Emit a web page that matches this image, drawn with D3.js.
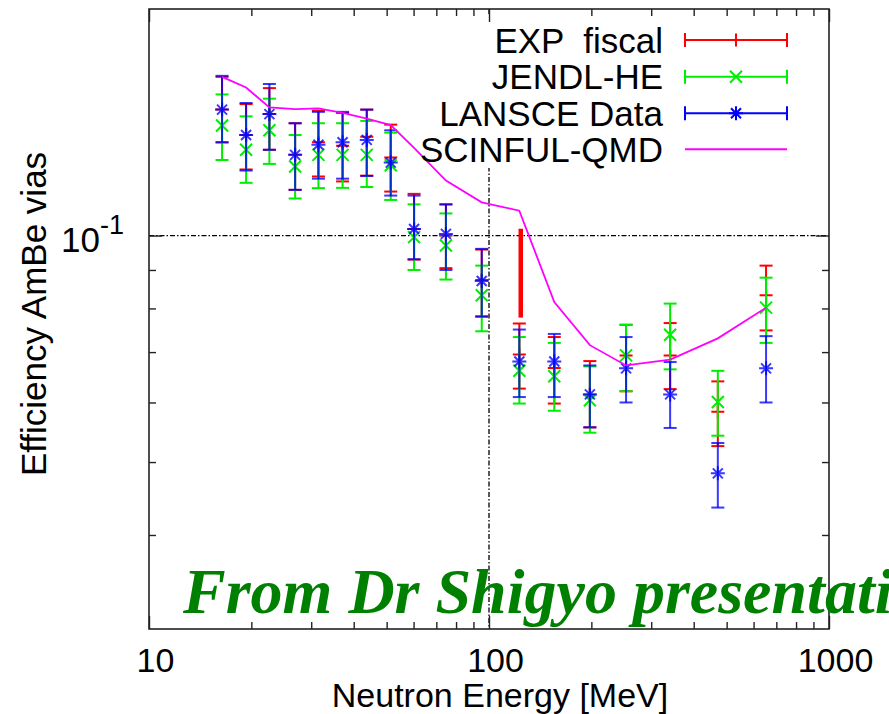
<!DOCTYPE html>
<html>
<head>
<meta charset="utf-8">
<script src="https://cdn.jsdelivr.net/npm/d3@7"></script>
<style>
  html, body { margin: 0; padding: 0; background: #fff; }
  svg { display: block; }
  .sans { font-family: "Liberation Sans", Arial, Helvetica, sans-serif; fill: #000; }
  .credit { font-family: "Liberation Serif", "Times New Roman", serif; font-style: italic; font-weight: bold; fill: #008000; }
</style>
</head>
<body>
<svg id="chart" width="889" height="714"></svg>
<script>
// Neutron energies [MeV] of the measured points
const energy = [16.4, 19.3, 22.6, 26.9, 31.5, 37.1, 43.7, 51.4, 60.2, 74.7, 95.2, 122.8, 155.6, 198, 253, 341, 471, 653];

// EXP fiscal
const expVal = [0.147, 0.136, 0.145, 0.128, 0.133, 0.1316, 0.1353, 0.127, 0.102, 0.100, 0.0873, 0.0695, 0.0667, 0.0615, 0.0693, 0.0693, 0.0583, 0.0833];
const expLo  = [0.133, 0.1224, 0.130, 0.115, 0.1198, 0.118, 0.1201, 0.1144, 0.0929, 0.0905, 0.0781, 0.0626, 0.0598, 0.0556, 0.0621, 0.0625, 0.0525, 0.0748];
const expHi  = [0.1625, 0.1495, 0.157, 0.141, 0.1465, 0.1455, 0.147, 0.1404, 0.1136, 0.110, 0.0958, 0.0764, 0.0733, 0.0681, 0.0761, 0.0765, 0.0640, 0.0912];

// JENDL-HE
const jendlVal = [0.140, 0.130, 0.138, 0.1235, 0.128, 0.128, 0.128, 0.124, 0.0995, 0.097, 0.0833, 0.0661, 0.065, 0.0604, 0.0693, 0.0738, 0.0601, 0.0802];
const jendlLo  = [0.126, 0.1175, 0.1245, 0.112, 0.1156, 0.1157, 0.116, 0.1115, 0.090, 0.0874, 0.0746, 0.0598, 0.0585, 0.0547, 0.0621, 0.0664, 0.0542, 0.0720];
const jendlHi  = [0.154, 0.144, 0.152, 0.136, 0.141, 0.141, 0.142, 0.137, 0.110, 0.107, 0.0912, 0.0733, 0.072, 0.067, 0.0761, 0.0812, 0.0661, 0.0879];

// LANSCE Data
const lansceVal = [0.147, 0.136, 0.145, 0.128, 0.132, 0.133, 0.134, 0.125, 0.102, 0.1005, 0.087, 0.068, 0.068, 0.0615, 0.0666, 0.0615, 0.0483, 0.0666];
const lansceLo  = [0.133, 0.122, 0.130, 0.115, 0.119, 0.119, 0.120, 0.113, 0.093, 0.090, 0.078, 0.061, 0.061, 0.0556, 0.060, 0.0555, 0.0435, 0.0600];
const lansceHi  = [0.163, 0.150, 0.159, 0.141, 0.146, 0.146, 0.147, 0.138, 0.113, 0.110, 0.096, 0.075, 0.074, 0.0672, 0.0733, 0.0679, 0.0530, 0.0735];

// SCINFUL-QMD calculation
const scinfulVal = [0.1625, 0.1573, 0.1480, 0.1472, 0.1476, 0.1455, 0.1430, 0.1402, 0.1308, 0.1183, 0.1107, 0.1079, 0.0816, 0.0715, 0.0672, 0.0684, 0.0730, 0.0802];

// Highlight bar near 124 MeV
const markEnergy = [124];
const markRange = [0.0778, 0.1021];

// Axes
const xMajor = [10, 100, 1000];
const xTickLabels = ["10", "100", "1000"];
const xMinor = [20, 30, 40, 50, 60, 70, 80, 90, 200, 300, 400, 500, 600, 700, 800, 900];
const yMajor = [0.1];
const yTickBase = "10";
const yTickExp = "-1";
const yMinor = [0.04, 0.05, 0.06, 0.07, 0.08, 0.09];

const legendLabels = ["EXP  fiscal", "JENDL-HE", "LANSCE Data", "SCINFUL-QMD"];
const xTitle = "Neutron Energy [MeV]";
const yTitle = "Efficiency AmBe vias";
const creditText = "From Dr Shigyo presentation";

const svg = d3.select("#chart");
const L = 149, R = 829, T = 9, B = 629;
const x = d3.scaleLog().domain([10, 1000]).range([L, R]);
const y = d3.scaleLog().domain([0.03, 0.2]).range([B, T]);

svg.append("rect").attr("width", 889).attr("height", 714).attr("fill", "#fff");

// grid on major ticks
const grid = svg.append("g").attr("stroke", "#000").attr("stroke-width", 1.3)
  .attr("stroke-dasharray", "5,2,1.5,2");
grid.selectAll("line.h").data(yMajor).join("line").attr("class", "h")
  .attr("x1", L).attr("x2", R).attr("y1", d => y(d)).attr("y2", d => y(d));
grid.selectAll("line.v").data([100]).join("line").attr("class", "v")
  .attr("x1", d => x(d)).attr("x2", d => x(d)).attr("y1", T).attr("y2", B);

// opaque key area
svg.append("rect").attr("x", 400).attr("y", 16).attr("width", 400).attr("height", 152).attr("fill", "#fff");

// axes with inward ticks (mirrored on all four sides)
function styleAxis(g) {
  g.select(".domain").remove();
  g.selectAll(".tick line").attr("stroke", "#222").attr("stroke-width", 1.4);
}
svg.append("g").attr("transform", `translate(0,${B})`)
  .call(d3.axisBottom(x).tickValues(xMinor).tickSizeInner(-7).tickSizeOuter(0).tickFormat(""))
  .call(styleAxis);
svg.append("g").attr("transform", `translate(0,${T})`)
  .call(d3.axisTop(x).tickValues(xMinor).tickSizeInner(-7).tickSizeOuter(0).tickFormat(""))
  .call(styleAxis);
svg.append("g").attr("transform", `translate(0,${T})`)
  .call(d3.axisTop(x).tickValues(xMajor).tickSizeInner(-13).tickSizeOuter(0).tickFormat(""))
  .call(styleAxis);
const xAxisMajor = svg.append("g").attr("transform", `translate(0,${B})`)
  .call(d3.axisBottom(x).tickValues(xMajor).tickSizeInner(-13).tickSizeOuter(0).tickPadding(19)
    .tickFormat((d, i) => xTickLabels[i]))
  .call(styleAxis);
xAxisMajor.attr("font-family", null).attr("font-size", null);
xAxisMajor.selectAll(".tick text").attr("class", "sans").attr("dx", 6)
  .style("font-size", "34px").style("fill", "#000");

svg.append("g").attr("transform", `translate(${L},0)`)
  .call(d3.axisLeft(y).tickValues(yMinor).tickSizeInner(-7).tickSizeOuter(0).tickFormat(""))
  .call(styleAxis);
svg.append("g").attr("transform", `translate(${R},0)`)
  .call(d3.axisRight(y).tickValues(yMinor).tickSizeInner(-7).tickSizeOuter(0).tickFormat(""))
  .call(styleAxis);
svg.append("g").attr("transform", `translate(${R},0)`)
  .call(d3.axisRight(y).tickValues(yMajor).tickSizeInner(-13).tickSizeOuter(0).tickFormat(""))
  .call(styleAxis);
const yAxisMajor = svg.append("g").attr("transform", `translate(${L},0)`)
  .call(d3.axisLeft(y).tickValues(yMajor).tickSizeInner(-13).tickSizeOuter(0).tickFormat(""))
  .call(styleAxis);
yAxisMajor.selectAll(".tick").each(function () {
  const t = d3.select(this).append("text").attr("class", "sans")
    .attr("x", -25).attr("y", 16).attr("text-anchor", "end")
    .style("font-size", "35px");
  t.append("tspan").text(yTickBase);
  t.append("tspan").style("font-size", "27px").attr("dy", -18).text(yTickExp);
});

// frame
svg.append("rect").attr("x", L).attr("y", T).attr("width", R - L).attr("height", B - T)
  .attr("fill", "none").attr("stroke", "#222").attr("stroke-width", 1.6);

// axis titles
svg.append("text").attr("class", "sans").attr("x", 500).attr("y", 707).attr("text-anchor", "middle")
  .style("font-size", "34px").text(xTitle);
svg.append("text").attr("class", "sans").attr("transform", "translate(46,314) rotate(-90)")
  .attr("text-anchor", "middle").style("font-size", "35px").text(yTitle);

// markers
const markerPath = {
  plus: "M-6.5,0H6.5M0,-6.5V6.5",
  cross: "M-6,-6L6,6M-6,6L6,-6",
  star: "M-7,0H7M0,-7V7M-5,-5L5,5M-5,5L5,-5"
};

function errorSeries(vals, lo, hi, color, marker, opacity) {
  const g = svg.append("g").attr("stroke", color).attr("stroke-width", 2).attr("fill", "none")
    .attr("stroke-opacity", opacity);
  const pts = energy.map((e, i) => ({ e, v: vals[i], lo: lo[i], hi: hi[i] }));
  const pg = g.selectAll("g").data(pts).join("g");
  pg.append("line").attr("x1", d => x(d.e)).attr("x2", d => x(d.e))
    .attr("y1", d => y(d.lo)).attr("y2", d => y(d.hi));
  pg.append("line").attr("x1", d => x(d.e) - 6.5).attr("x2", d => x(d.e) + 6.5)
    .attr("y1", d => y(d.lo)).attr("y2", d => y(d.lo));
  pg.append("line").attr("x1", d => x(d.e) - 6.5).attr("x2", d => x(d.e) + 6.5)
    .attr("y1", d => y(d.hi)).attr("y2", d => y(d.hi));
  pg.append("path").attr("d", markerPath[marker])
    .attr("transform", d => `translate(${x(d.e)},${y(d.v)})`);
}

errorSeries(expVal, expLo, expHi, "#ff0000", "plus", 1);
errorSeries(jendlVal, jendlLo, jendlHi, "#00ee00", "cross", 1);
errorSeries(lansceVal, lansceLo, lansceHi, "#0000ff", "star", 0.78);

// SCINFUL-QMD curve
const line = d3.line().x(d => x(d[0])).y(d => y(d[1]));
svg.append("path").datum(energy.map((e, i) => [e, scinfulVal[i]]))
  .attr("d", line).attr("fill", "none").attr("stroke", "#ff00ff").attr("stroke-width", 1.8);

// highlight bar
svg.append("line").attr("x1", x(markEnergy[0])).attr("x2", x(markEnergy[0]))
  .attr("y1", y(markRange[0])).attr("y2", y(markRange[1]))
  .attr("stroke", "#ff0000").attr("stroke-width", 4.5);

// legend
const legendColors = ["#ff0000", "#00ee00", "#0000ff", "#ff00ff"];
const legendMarkers = ["vtick", "cross", "star", null];
const rowY = [40, 76.7, 113.3, 149.3];
const lg = svg.append("g");
legendLabels.forEach((lab, i) => {
  const cy = rowY[i];
  lg.append("text").attr("class", "sans").attr("x", 663).attr("y", cy + 12.5).attr("text-anchor", "end")
    .style("font-size", "35px").style("white-space", "pre").text(lab);
  const s = lg.append("g").attr("stroke", legendColors[i]).attr("stroke-width", 2).attr("fill", "none");
  s.append("line").attr("x1", 685).attr("x2", 787).attr("y1", cy).attr("y2", cy);
  if (legendMarkers[i]) {
    s.append("line").attr("x1", 685).attr("x2", 685).attr("y1", cy - 7).attr("y2", cy + 7);
    s.append("line").attr("x1", 787).attr("x2", 787).attr("y1", cy - 7).attr("y2", cy + 7);
    const m = legendMarkers[i] === "vtick" ? "M0,-6.5V6.5" : markerPath[legendMarkers[i]];
    s.append("path").attr("d", m).attr("transform", `translate(736,${cy})`);
  }
});

// credit line
svg.append("text").attr("class", "credit").attr("x", 183).attr("y", 613)
  .style("font-size", "64px").text(creditText);
</script>
</body>
</html>
